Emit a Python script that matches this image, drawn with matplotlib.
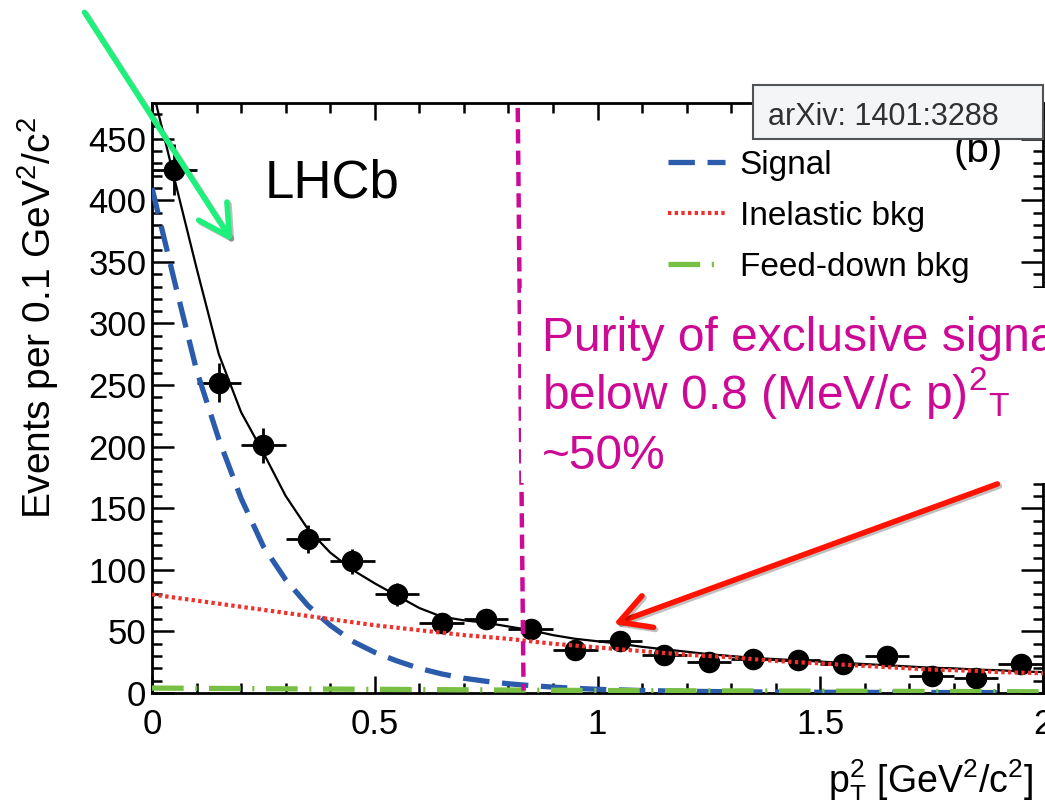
import matplotlib
matplotlib.use("Agg")
import matplotlib.pyplot as plt
import matplotlib.patheffects as pe
from matplotlib.patches import Rectangle, FancyArrowPatch, ArrowStyle

# ---------------- data ----------------
bin_centers = [0.05, 0.15, 0.25, 0.35, 0.45, 0.55, 0.65, 0.75, 0.85, 0.95,
               1.05, 1.15, 1.25, 1.35, 1.45, 1.55, 1.65, 1.75, 1.85, 1.95]
counts = [425, 252, 201, 125, 107, 80, 57, 60, 52, 35,
          42, 31, 25, 28, 27, 23.5, 30, 14, 12.5, 23.5]
count_err = [21, 16, 14, 11, 10, 9, 8, 8, 7, 6,
             6, 6, 5, 5, 5, 5, 5, 4, 4, 5]
bin_half_width = 0.05

fit_x = [0.00, 0.05, 0.10, 0.15, 0.20, 0.25, 0.30, 0.35, 0.40, 0.45,
         0.50, 0.55, 0.60, 0.65, 0.70, 0.75, 0.80, 0.85, 0.90, 0.95,
         1.00, 1.05, 1.10, 1.15, 1.20, 1.25, 1.30, 1.35, 1.40, 1.45,
         1.50, 1.55, 1.60, 1.65, 1.70, 1.75, 1.80, 1.85, 1.90, 1.95, 2.00]
total_fit = [492, 418, 345, 275, 228, 195, 160, 133, 114, 100,
             89, 79, 69, 62, 59, 57, 54, 51, 47, 44,
             42, 40, 37.5, 35.5, 33.5, 31.5, 30, 28.5, 27.5, 26.5,
             25.5, 24.5, 23.5, 22.5, 21.5, 20.5, 20, 19, 18.5, 17.5, 17]
signal_fit = [410, 335, 262, 206, 158, 119, 92, 71, 55, 42,
              33, 26, 20, 15.5, 12, 9.5, 7.5, 6, 4.8, 3.8,
              3, 2.5, 2, 1.7, 1.4, 1.2, 1.0, 0.9, 0.8, 0.7,
              0.6, 0.55, 0.5, 0.45, 0.4, 0.4, 0.35, 0.35, 0.3, 0.3, 0.3]
inelastic_fit = [80, 77.5, 75, 72.5, 70, 67.5, 65, 62.5, 60, 57.5,
                 55, 53, 51, 49, 47, 45.5, 44, 42, 40, 38.5,
                 37, 35.5, 34, 32.5, 31, 30, 29, 27.5, 26, 25,
                 24, 23, 22, 21, 20, 19, 18.5, 18, 17, 16.5, 16]
feeddown_x = [0.0, 0.5, 1.0, 1.5, 2.0]
feeddown_fit = [4, 3, 2, 1.5, 1]

x_ticks = [0, 0.5, 1, 1.5, 2]
x_tick_labels = ["0", "0.5", "1", "1.5", "2"]
y_ticks = [0, 50, 100, 150, 200, 250, 300, 350, 400, 450]
legend_labels = ["Signal", "Inelastic bkg", "Feed-down bkg"]

# ---------------- style ----------------
plt.rcParams.update({
    "font.family": ["Liberation Sans", "DejaVu Sans"],
    "mathtext.fontset": "custom",
    "mathtext.rm": "Liberation Sans",
    "mathtext.it": "Liberation Sans:italic",
    "mathtext.bf": "Liberation Sans:bold",
    "mathtext.default": "regular",
})

W, H = 1045, 800


def fx(x):
    return x / W


def fy(y):
    return 1 - y / H


BLUE = "#2b5cab"
RED = "#f0302a"
GREEN = "#78c043"
MAGENTA = "#cc0a96"

fig = plt.figure(figsize=(W / 100, H / 100), dpi=100)
ax = fig.add_axes([fx(152), fy(693), (1043 - 152) / W, (693 - 103) / H])

ax.errorbar(bin_centers, counts, xerr=bin_half_width, yerr=count_err,
            fmt="o", color="black", ms=14.5, elinewidth=2.0, capsize=0,
            zorder=2)

ax.plot(fit_x, total_fit, color="black", lw=1.6, zorder=3)
l_sig, = ax.plot(fit_x, signal_fit, color=BLUE, lw=3.8,
                 ls=(0, (5, 2.4)), zorder=3)
l_inel, = ax.plot(fit_x, inelastic_fit, color=RED, lw=3.0,
                  ls=(0, (0.8, 0.8)), zorder=4)
l_fd, = ax.plot(feeddown_x, feeddown_fit, color=GREEN, lw=3.8,
                ls=(0, (6, 2.2, 0.4, 2.2)), zorder=3)

# cut marker at pT^2 ~ 0.8
ax.plot([0.821, 0.834], [475, 2], color=MAGENTA, lw=3.2,
        ls=(0, (3.2, 1.6)), zorder=5)

ax.set_xlim(0, 2)
ax.set_ylim(0, 479)
ax.set_xticks(x_ticks)
ax.set_xticklabels(x_tick_labels)
ax.set_yticks(y_ticks)
ax.set_xticks([i / 10 for i in range(21)], minor=True)
ax.set_yticks(list(range(0, 480, 10)), minor=True)
ax.tick_params(axis="both", which="both", direction="in", top=True,
               right=True, width=1.8, colors="black", labelsize=25)
ax.tick_params(axis="y", which="major", length=16, pad=4)
ax.tick_params(axis="y", which="minor", length=7.5)
ax.tick_params(axis="x", which="major", length=12.5, pad=11)
ax.tick_params(axis="x", which="minor", length=7)
for s in ax.spines.values():
    s.set_linewidth(2.0)

ax.set_ylabel(r"Events per 0.1 GeV$^2$/c$^2$", fontsize=28)
ax.yaxis.set_label_coords((38 - 152) / 891, (693 - 318) / 590)
ax.yaxis.label.set_rotation_mode("default")
ax.yaxis.label.set_va("center")

ax.set_xlabel(r"p$_T^2$ [GeV$^2$/c$^2$]", fontsize=27, loc="right")
ax.xaxis.set_label_coords((1033 - 152) / 891, (693 - 793) / 590)
ax.xaxis.label.set_va("baseline")

leg = ax.legend([l_sig, l_inel, l_fd], legend_labels, loc="upper left",
                bbox_to_anchor=(fx(668), fy(150)),
                bbox_transform=fig.transFigure, frameon=False,
                fontsize=24, handlelength=1.7, handletextpad=0.45,
                labelspacing=0.6, borderaxespad=0, borderpad=0)

fig.text(fx(265), fy(198), "LHCb", fontsize=38, va="baseline", ha="left")
fig.text(fx(953), fy(162), "(b)", fontsize=29, va="baseline", ha="left",
         zorder=4)

# reference tag
fig.patches.append(Rectangle((fx(753), fy(139)), (1043 - 753) / W,
                             (139 - 85) / H, transform=fig.transFigure,
                             facecolor="#f4f5f7", edgecolor="#505256",
                             lw=1.5, zorder=5))
fig.text(fx(768), fy(125), "arXiv: 1401:3288", fontsize=22, color="#303030",
         va="baseline", ha="left", zorder=6)

# annotation panel
fig.patches.append(Rectangle((fx(521), fy(483)), (W - 521) / W,
                             (483 - 288) / H, transform=fig.transFigure,
                             facecolor="white", edgecolor="none", zorder=5))
fig.text(fx(542), fy(351), "Purity of exclusive signal", fontsize=34.5,
         color=MAGENTA, va="baseline", ha="left", zorder=6)
fig.text(fx(542), fy(409), r"below 0.8 (MeV/c p)$^2{}_T$", fontsize=34.5,
         color=MAGENTA, va="baseline", ha="left", zorder=6)
fig.text(fx(542), fy(469), "~50%", fontsize=34.5,
         color=MAGENTA, va="baseline", ha="left", zorder=6)

shadow = [pe.SimpleLineShadow(offset=(1.5, -1.5), shadow_color="black",
                              alpha=0.25), pe.Normal()]
green_arrow = FancyArrowPatch((fx(83), fy(10)), (fx(234), fy(244)),
                              transform=fig.transFigure,
                              arrowstyle=ArrowStyle("->", head_length=1.0,
                                                    head_width=0.55),
                              mutation_scale=22, color="#1ef07c", lw=4.0,
                              zorder=7, path_effects=shadow)
red_arrow = FancyArrowPatch((fx(1000), fy(483)), (fx(611), fy(625)),
                            transform=fig.transFigure,
                            arrowstyle=ArrowStyle("->", head_length=1.0,
                                                  head_width=0.55),
                            mutation_scale=22, color="#ff1200", lw=4.0,
                            zorder=7, path_effects=shadow)
fig.patches.append(green_arrow)
fig.patches.append(red_arrow)

fig.savefig("out.png", dpi=100)
